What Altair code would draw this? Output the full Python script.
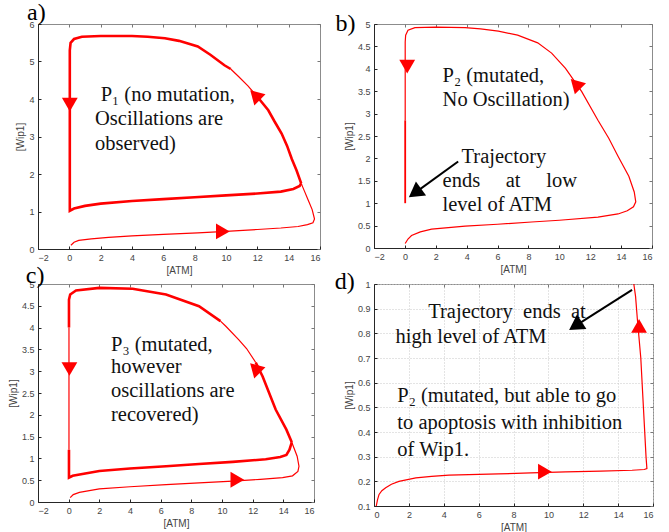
import altair as alt
import pandas as pd

# ---------------- data ----------------
# Panel a: P1, limit cycle
A_T0_X = [0.1, 0.3, 0.6, 1.4, 2.5, 4.0, 6.0, 8.2, 10.0, 12.0, 13.5, 14.6, 15.2, 15.55, 15.65, 15.5, 15.25, 15.0, 14.8]
A_T0_Y = [0.1, 0.18, 0.23, 0.27, 0.31, 0.35, 0.39, 0.43, 0.47, 0.52, 0.56, 0.6, 0.65, 0.7, 0.8, 1.05, 1.3, 1.55, 1.75]
A_C1_X = [14.8, 14.5, 14.2, 13.9, 13.55, 13.1, 12.7, 12.0]
A_C1_Y = [1.75, 2.1, 2.4, 2.75, 3.08, 3.4, 3.7, 4.06]
A_C2_X = [12.0, 11.4, 10.8, 10.3]
A_C2_Y = [4.06, 4.35, 4.6, 4.8]
A_C3_X = [10.3, 9.9, 9.0, 8.2, 7.0, 6.1, 5.0, 4.0, 2.0, 0.8, 0.3, 0.08, 0.03, 0.03, 0.3, 1.0, 2.0, 4.0, 6.0, 8.0, 10.0, 12.0, 13.5, 14.3, 14.7, 14.8]
A_C3_Y = [4.8, 4.9, 5.18, 5.4, 5.55, 5.62, 5.66, 5.68, 5.68, 5.66, 5.6, 5.5, 5.3, 1.02, 1.08, 1.15, 1.21, 1.28, 1.33, 1.38, 1.43, 1.48, 1.53, 1.6, 1.68, 1.75]

# Panel b: P2, no oscillation
B_T0_X = [0.02, 0.2, 0.43, 1.0, 1.73, 3.9, 6.0, 8.2, 10.0, 12.5, 13.8, 14.4, 14.8, 14.95, 14.85, 14.5, 13.8, 13.2, 12.5, 11.45, 10.4, 9.5, 8.6, 7.3, 6.05, 4.9, 3.9, 2.0, 0.65, 0.2, 0.05, 0.02, 0.02]
B_T0_Y = [0.1, 0.2, 0.28, 0.36, 0.42, 0.49, 0.53, 0.58, 0.62, 0.69, 0.76, 0.83, 0.92, 1.03, 1.25, 1.6, 2.05, 2.45, 2.85, 3.49, 4.01, 4.35, 4.58, 4.75, 4.84, 4.89, 4.92, 4.93, 4.92, 4.86, 4.75, 4.6, 2.85]
B_T1_X = [0.02, 0.02]
B_T1_Y = [2.85, 1.0]

# Panel c: P3, oscillations recovered
C_T0_X = [0.1, 0.3, 0.7, 2.0, 4.0, 6.35, 8.5, 10.7, 12.5, 13.95, 14.6, 14.95, 15.02, 14.9, 14.55]
C_T0_Y = [0.1, 0.17, 0.22, 0.3, 0.35, 0.4, 0.44, 0.48, 0.52, 0.56, 0.6, 0.7, 0.82, 1.05, 1.37]
C_C1_X = [14.55, 14.2, 13.5, 12.65, 12.2]
C_C1_Y = [1.37, 1.66, 2.12, 2.88, 3.2]
C_C2_X = [12.2, 11.6, 11.1, 10.25, 9.9]
C_C2_Y = [3.2, 3.52, 3.72, 4.03, 4.15]
C_C3_X = [9.9, 8.5, 6.35, 4.17, 2.0, 0.48, 0.1, 0.02, 0.02]
C_C3_Y = [4.15, 4.49, 4.76, 4.89, 4.91, 4.85, 4.76, 4.64, 4.0]
C_C4_X = [0.02, 0.02]
C_C4_Y = [4.0, 1.2]
C_C5_X = [0.02, 0.02, 0.26, 2.0, 4.0, 6.35, 8.5, 10.7, 12.85, 13.8, 14.2, 14.4, 14.55]
C_C5_Y = [1.2, 0.56, 0.6, 0.71, 0.77, 0.82, 0.87, 0.92, 0.98, 1.03, 1.08, 1.2, 1.37]

# Panel d: P2 with Wip1 inhibition
D_T0_X = [0.13, 0.2, 0.29, 0.45, 0.67, 1.0, 1.43, 2.4, 3.3, 4.3, 7.15, 9.0, 11.0, 13.0, 14.8, 15.5, 15.65, 15.6, 15.45, 15.3, 15.1, 15.0, 14.9]
D_T0_Y = [0.1, 0.125, 0.147, 0.162, 0.174, 0.188, 0.2, 0.214, 0.22, 0.225, 0.23, 0.234, 0.238, 0.241, 0.245, 0.248, 0.252, 0.3, 0.5, 0.7, 0.86, 0.95, 1.0]

# red direction arrows (x, y, angle in degrees)
A_ARR = ([0.03, 9.8, 12.1], [3.85, 0.47, 4.08], [180, 90, 75])
B_ARR = ([0.15, 11.3], [4.05, 3.64], [180, 75])
C_ARR = ([0.05, 11.0, 12.4], [3.05, 0.51, 3.05], [180, 90, 75])
D_ARR = ([15.2, 9.8], [0.83, 0.239], [0, 90])

# black annotation arrows: shaft (tail x, tail y, head x, head y), head angle
B_BLACK = ([3.45, 0.65], [1.93, 1.23], 234)
D_BLACK = ([14.8, 11.55], [0.976, 0.83], 237)

# annotation text lines
A_TXT = ([2.0, 1.64, 1.64], [4.11, 3.48, 2.8],
         ["P\u2081 (no mutation,", "Oscillations are", "observed)"])
B_TXT = ([2.44, 2.44, 3.67, 2.44, 2.44], [3.83, 3.31, 2.04, 1.49, 0.96],
         ["P\u2082 (mutated,", "No Oscillation)", "Trajectory",
          "ends\u00a0\u00a0\u00a0\u00a0\u00a0at\u00a0\u00a0\u00a0\u00a0\u00a0low", "level of ATM"])
C_TXT = ([2.76, 2.76, 2.76, 2.76], [3.61, 3.09, 2.54, 2.0],
         ["P\u2083 (mutated,", "however", "oscillations are", "\u00a0recovered)"])
D_TXT = ([3.11, 1.24, 1.34, 1.34, 1.34], [0.888, 0.787, 0.545, 0.437, 0.329],
         ["Trajectory\u00a0\u00a0ends\u00a0\u00a0at", "high level of ATM",
          "P\u2082 (mutated, but able to go", "to apoptosis with inhibition", "of Wip1."])

# panel letters (x, y in each panel's data units)
LABELS = {"a": (-2.7, 6.1, "a)"), "b": (-4.5, 4.85, "b)"),
          "c": (-2.8, 5.02, "c)"), "d": (-2.25, 0.98, "d)")}

THIN, THICK = 1.2, 2.6

X_TICKS_A = [-2, 0, 2, 4, 6, 8, 10, 12, 14, 16]
X_TICKS_D = [0, 2, 4, 6, 8, 10, 12, 14, 16]
Y_TICKS_A = [0, 1, 2, 3, 4, 5, 6]
Y_TICKS_B = [0, 0.5, 1, 1.5, 2, 2.5, 3, 3.5, 4, 4.5, 5]
Y_TICKS_D = [0.1, 0.2, 0.3, 0.4, 0.5, 0.6, 0.7, 0.8, 0.9, 1.0]


def traj(segments):
    rows = []
    for sid, (w, xs, ys) in enumerate(segments):
        for i, (x, y) in enumerate(zip(xs, ys)):
            rows.append({"seg": sid, "i": i, "x": x, "y": y, "w": w})
    return pd.DataFrame(rows)


def inner_axis(orient, ticks, color):
    # tick-only axis pulled inside the frame so that its ticks point inward
    return alt.Axis(orient=orient, values=ticks, labels=False, domain=False, grid=False,
                    ticks=True, tickSize=3, offset=-3, tickColor=color, title="")


def panel(segs, arrows, texts, xdom, ydom, xticks, yticks, w, h, label,
          grid=False, black=None):
    xs = alt.Scale(domain=xdom, nice=False, zero=False)
    ys = alt.Scale(domain=ydom, nice=False, zero=False)
    X = alt.X("x:Q", scale=xs, axis=alt.Axis(values=xticks, title="[ATM]", format="~g",
                                             grid=grid, orient="bottom"))
    Y = alt.Y("y:Q", scale=ys, axis=alt.Axis(values=yticks, title="[Wip1]", format="~g",
                                             grid=grid, orient="left"))
    X_top = alt.X("x:Q", scale=xs, axis=inner_axis("top", xticks, "#777777"))
    Y_right = alt.Y("y:Q", scale=ys, axis=inner_axis("right", yticks, "#777777"))
    X_bot = alt.X("x:Q", scale=xs, axis=inner_axis("bottom", xticks, "#262626"))
    Y_left = alt.Y("y:Q", scale=ys, axis=inner_axis("left", yticks, "#262626"))
    Xn = alt.X("x:Q", scale=xs, axis=None)
    Yn = alt.Y("y:Q", scale=ys, axis=None)

    lines = alt.Chart(traj(segs)).mark_line(color="#ff0000").encode(
        x=X, y=Y, detail="seg:N", order="i:Q",
        strokeWidth=alt.StrokeWidth("w:Q", scale=None))

    adf = pd.DataFrame({"x": arrows[0], "y": arrows[1], "ang": arrows[2]})
    heads = alt.Chart(adf).mark_point(shape="triangle-up", filled=True, color="#ff0000",
                                      size=250, opacity=1).encode(
        x=X_top, y=Y_right, angle=alt.Angle("ang:Q", scale=None))

    tdf = pd.DataFrame({"x": texts[0], "y": texts[1], "t": texts[2]})
    txt = alt.Chart(tdf).mark_text(align="left", baseline="middle", font="Liberation Serif",
                                   fontSize=20.5, color="#111111").encode(
        x=X_bot, y=Y_left, text="t:N")

    ldf = pd.DataFrame({"x": [label[0]], "y": [label[1]], "t": [label[2]]})
    lab = alt.Chart(ldf).mark_text(align="left", baseline="alphabetic", font="Liberation Serif",
                                   fontSize=24, color="black").encode(x=Xn, y=Yn, text="t:N")

    layers = [lines, heads, txt, lab]
    if black is not None:
        bdf = pd.DataFrame({"x": black[0], "y": black[1]})
        shaft = alt.Chart(bdf).mark_line(color="black", strokeWidth=2).encode(x=Xn, y=Yn)
        hdf = pd.DataFrame({"x": [black[0][1]], "y": [black[1][1]], "ang": [black[2]]})
        head = alt.Chart(hdf).mark_point(shape="triangle-up", filled=True, color="black",
                                         size=300, opacity=1).encode(
            x=Xn, y=Yn, angle=alt.Angle("ang:Q", scale=None))
        layers += [shaft, head]

    return alt.layer(*layers).resolve_axis(x="independent", y="independent").properties(
        width=w, height=h)


pa = panel([(THIN, A_T0_X, A_T0_Y), (THICK, A_C1_X, A_C1_Y), (THIN, A_C2_X, A_C2_Y),
            (THICK, A_C3_X, A_C3_Y)], A_ARR, A_TXT, [-2, 16], [0, 6],
           X_TICKS_A, Y_TICKS_A, 282, 225, LABELS["a"])
pb = panel([(THIN, B_T0_X, B_T0_Y), (1.8, B_T1_X, B_T1_Y)], B_ARR, B_TXT, [-2, 16], [0, 5],
           X_TICKS_A, Y_TICKS_B, 278, 224, LABELS["b"], black=B_BLACK)
pc = panel([(THIN, C_T0_X, C_T0_Y), (THICK, C_C1_X, C_C1_Y), (THIN, C_C2_X, C_C2_Y),
            (THICK, C_C3_X, C_C3_Y), (THIN, C_C4_X, C_C4_Y), (THICK, C_C5_X, C_C5_Y)],
           C_ARR, C_TXT, [-2, 16], [0, 5], X_TICKS_A, Y_TICKS_B, 276, 218, LABELS["c"])
pd_ = panel([(THIN, D_T0_X, D_T0_Y)], D_ARR, D_TXT, [0, 16], [0.1, 1.0],
            X_TICKS_D, Y_TICKS_D, 279, 222, LABELS["d"], grid=True, black=D_BLACK)

chart = alt.concat(pa, pb, pc, pd_, columns=2, spacing={"row": 35, "column": 54},
                   bounds="flush").properties(
    padding={"left": 7, "top": 0, "right": 5, "bottom": 5},
    background="white",
).configure_view(stroke="#8c8c8c", strokeWidth=1).configure_axis(
    labelFont="Liberation Sans", labelFontSize=9, labelColor="#444444",
    titleFont="Liberation Sans", titleFontSize=10, titleColor="#444444",
    titleFontWeight="normal", domainColor="#262626", domainWidth=1,
    ticks=False, labelPadding=4, titlePadding=3,
    gridColor="#c8c8c8", gridDash=[1, 2], gridWidth=1,
)

chart.save("out.html", embed_options={"renderer": "svg", "actions": False})
